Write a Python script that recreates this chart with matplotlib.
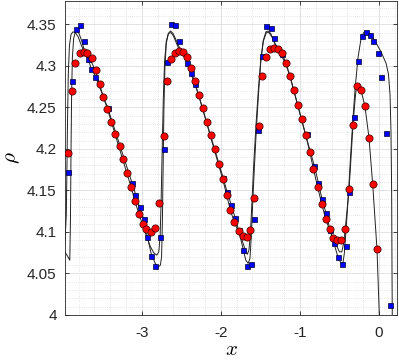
import matplotlib
matplotlib.use("Agg")
import matplotlib.pyplot as plt
from matplotlib.ticker import MultipleLocator, FuncFormatter

# marker data
red_x = [-3.933, -3.886, -3.839, -3.785, -3.734, -3.687, -3.633, -3.582, -3.535, -3.485,
         -3.434, -3.384, -3.335, -3.282, -3.237, -3.186, -3.139, -3.089, -3.038, -2.987,
         -2.941, -2.886, -2.832, -2.781, -2.725, -2.684, -2.633, -2.582, -2.532, -2.485,
         -2.434, -2.384, -2.333, -2.282, -2.232, -2.181, -2.130, -2.080, -2.029, -1.978,
         -1.928, -1.882, -1.832, -1.776, -1.725, -1.675, -1.629, -1.578, -1.523, -1.477,
         -1.427, -1.380, -1.329, -1.278, -1.228, -1.177, -1.127, -1.076, -1.025, -0.978,
         -0.928, -0.877, -0.832, -0.776, -0.725, -0.675, -0.624, -0.576, -0.528, -0.477,
         -0.427, -0.376, -0.329, -0.282, -0.228, -0.177, -0.127, -0.080, -0.025]
red_y = [4.1948, 4.2695, 4.3040, 4.3153, 4.3172, 4.3153, 4.3093, 4.2952, 4.2787, 4.2627,
         4.2482, 4.2329, 4.2181, 4.2036, 4.1876, 4.1714, 4.1546, 4.1377, 4.1217, 4.1096,
         4.1033, 4.1004, 4.1052, 4.1346, 4.2157, 4.2819, 4.3088, 4.3160, 4.3181, 4.3165,
         4.3105, 4.2980, 4.2823, 4.2651, 4.2490, 4.2325, 4.2165, 4.2004, 4.1823, 4.1635,
         4.1446, 4.1261, 4.1120, 4.1016, 4.0952, 4.0940, 4.1024, 4.1413, 4.2281, 4.2880,
         4.3112, 4.3205, 4.3220, 4.3208, 4.3160, 4.3040, 4.2876, 4.2707, 4.2527, 4.2358,
         4.2165, 4.1967, 4.1759, 4.1539, 4.1337, 4.1160, 4.1033, 4.0931, 4.0904, 4.0904,
         4.1033, 4.1518, 4.2293, 4.2759, 4.2714, 4.2514, 4.2136, 4.1582, 4.0792]

blue_x = [-3.933, -3.886, -3.835, -3.781, -3.730, -3.684, -3.642, -3.586, -3.427, -3.123,
          -3.080, -3.029, -2.975, -2.933, -2.882, -2.827, -2.776, -2.725, -2.687, -2.633,
          -2.578, -2.528, -2.434, -2.384, -2.333, -1.971, -1.920, -1.870, -1.819, -1.772,
          -1.725, -1.675, -1.620, -1.578, -1.528, -1.477, -1.434, -1.371, -1.325, -1.232,
          -0.915, -0.819, -0.768, -0.722, -0.671, -0.620, -0.570, -0.519, -0.468, -0.422,
          -0.376, -0.320, -0.270, -0.219, -0.168, -0.118, -0.072, -0.016, 0.029, 0.085,
          0.135]
blue_y = [4.1727, 4.2823, 4.3446, 4.3498, 4.3298, 4.3088, 4.2960, 4.2867, 4.2498, 4.1587,
          4.1446, 4.1305, 4.1157, 4.0943, 4.0714, 4.0594, 4.0943, 4.1996, 4.3052, 4.3506,
          4.3490, 4.3301, 4.3033, 4.2919, 4.2787, 4.1647, 4.1486, 4.1329, 4.1172, 4.1024,
          4.0783, 4.0594, 4.0611, 4.1153, 4.2229, 4.3124, 4.3478, 4.3458, 4.3334, 4.3141,
          4.2177, 4.1799, 4.1594, 4.1398, 4.1225, 4.1024, 4.0867, 4.0695, 4.0618, 4.0835,
          4.1478, 4.2389, 4.3064, 4.3365, 4.3413, 4.3373, 4.3298, 4.3153, 4.2867, 4.2193,
          4.0124]

# the two thin black curves, traced by eye
line1_x = [-3.975, -3.940, -3.911, -3.903, -3.896, -3.888, -3.878, -3.862, -3.840, -3.815,
           -3.790, -3.760, -3.730, -3.690, -3.642, -3.586, -3.520, -3.430, -3.120, -3.030,
           -2.975, -2.933, -2.882, -2.830, -2.790, -2.765, -2.750, -2.740, -2.730, -2.720,
           -2.707, -2.690, -2.665, -2.636, -2.605, -2.575, -2.540, -2.500, -2.434, -2.384,
           -2.333, -2.282, -1.971, -1.920, -1.870, -1.819, -1.772, -1.725, -1.685, -1.655,
           -1.632, -1.615, -1.595, -1.575, -1.550, -1.525, -1.495, -1.465, -1.430, -1.400,
           -1.370, -1.335, -1.290, -1.232, -1.180, -1.127, -0.928, -0.819, -0.768, -0.722,
           -0.671, -0.620, -0.570, -0.519, -0.480, -0.455, -0.437, -0.415, -0.390, -0.360,
           -0.330, -0.300, -0.265, -0.230, -0.195, -0.160, -0.110, -0.050, 0.030, 0.090,
           0.120, 0.140, 0.152, 0.160, 0.165, 0.168]
line1_y = [4.076, 4.071, 4.066, 4.110, 4.190, 4.265, 4.310, 4.333, 4.341, 4.342,
           4.338, 4.330, 4.320, 4.310, 4.298, 4.287, 4.271, 4.249, 4.158, 4.130,
           4.115, 4.096, 4.074, 4.062, 4.058, 4.060, 4.070, 4.110, 4.180, 4.250,
           4.300, 4.327, 4.339, 4.342, 4.339, 4.333, 4.325, 4.318, 4.304, 4.292,
           4.279, 4.265, 4.165, 4.148, 4.133, 4.117, 4.101, 4.082, 4.066, 4.062,
           4.068, 4.095, 4.140, 4.180, 4.225, 4.265, 4.305, 4.330, 4.341, 4.342,
           4.339, 4.331, 4.320, 4.312, 4.302, 4.288, 4.217, 4.180, 4.160, 4.140,
           4.123, 4.103, 4.086, 4.070, 4.062, 4.063, 4.075, 4.105, 4.140, 4.190,
           4.235, 4.275, 4.310, 4.331, 4.340, 4.342, 4.338, 4.330, 4.316, 4.303,
           4.290, 4.265, 4.220, 4.150, 4.050, 4.000]

line2_x = [-3.975, -3.955, -3.948, -3.940, -3.930, -3.915, -3.895, -3.870, -3.840, -3.805,
           -3.770, -3.735, -3.690, -3.633, -3.582, -3.535, -3.485, -3.434, -3.139, -3.089,
           -3.038, -2.987, -2.941, -2.895, -2.850, -2.810, -2.785, -2.768, -2.755, -2.742,
           -2.728, -2.712, -2.690, -2.662, -2.630, -2.600, -2.565, -2.530, -2.485, -2.434,
           -2.384, -2.333, -2.282, -1.978, -1.928, -1.882, -1.832, -1.776, -1.725, -1.690,
           -1.665, -1.645, -1.625, -1.605, -1.582, -1.555, -1.525, -1.495, -1.462, -1.425,
           -1.390, -1.355, -1.315, -1.270, -1.228, -1.177, -1.127, -0.928, -0.877, -0.832,
           -0.776, -0.725, -0.675, -0.624, -0.576, -0.535, -0.500, -0.470, -0.448, -0.425,
           -0.400, -0.376, -0.350, -0.329, -0.300, -0.282, -0.255, -0.228, -0.177, -0.127,
           -0.080, -0.025, 0.004]
line2_y = [4.083, 4.120, 4.170, 4.230, 4.290, 4.325, 4.338, 4.341, 4.340, 4.335,
           4.326, 4.318, 4.312, 4.304, 4.293, 4.278, 4.262, 4.248, 4.155, 4.138,
           4.122, 4.108, 4.095, 4.083, 4.075, 4.072, 4.076, 4.095, 4.140, 4.200,
           4.260, 4.305, 4.330, 4.339, 4.340, 4.336, 4.328, 4.320, 4.314, 4.308,
           4.296, 4.281, 4.265, 4.164, 4.145, 4.127, 4.112, 4.100, 4.088, 4.078,
           4.073, 4.078, 4.100, 4.140, 4.185, 4.230, 4.272, 4.307, 4.330, 4.340,
           4.340, 4.335, 4.327, 4.320, 4.314, 4.304, 4.288, 4.217, 4.197, 4.177,
           4.154, 4.134, 4.116, 4.102, 4.092, 4.083, 4.076, 4.076, 4.086, 4.105,
           4.130, 4.155, 4.195, 4.229, 4.262, 4.276, 4.278, 4.271, 4.251, 4.214,
           4.158, 4.079, 4.000]

plt.rcParams['font.family'] = ['Liberation Sans', 'DejaVu Sans']
plt.rcParams['mathtext.fontset'] = 'cm'

fig = plt.figure(figsize=(3.99, 3.62), dpi=100)
ax = fig.add_axes([0.163, 0.130, 0.832, 0.867])

ax.plot(line1_x, line1_y, color='#222222', lw=0.7, zorder=2)
ax.plot(line2_x, line2_y, color='#222222', lw=0.7, zorder=2)
ax.plot(blue_x, blue_y, ls='none', marker='s', ms=3.6, mfc='#0000ff', mec='#000033',
        mew=0.5, zorder=3)
ax.plot(red_x, red_y, ls='none', marker='o', ms=5.2, mfc='#ff0000', mec='#330000',
        mew=0.5, zorder=4)

ax.set_xlim(-3.971, 0.228)
ax.set_ylim(4.0, 4.378)
ax.xaxis.set_major_locator(MultipleLocator(1))
ax.xaxis.set_minor_locator(MultipleLocator(0.2))
ax.yaxis.set_major_locator(MultipleLocator(0.05))
ax.yaxis.set_minor_locator(MultipleLocator(0.01))
fmt = FuncFormatter(lambda v, p: '%g' % round(v, 4))
ax.xaxis.set_major_formatter(fmt)
ax.yaxis.set_major_formatter(fmt)

ax.grid(which='major', color='#dedede', lw=0.6, ls='-')
ax.grid(which='minor', color='#cfcfcf', lw=0.5, ls=(0, (1, 2)))
ax.set_axisbelow(True)

ax.tick_params(which='major', direction='in', top=True, right=True, length=3,
               width=0.6, color='#262626', labelcolor='#262626', labelsize=11)
ax.tick_params(axis='y', which='major', pad=6)
ax.tick_params(axis='x', which='major', pad=8)
ax.tick_params(which='minor', length=0, top=True, right=True)
for s in ax.spines.values():
    s.set_color('#262626')
    s.set_linewidth(0.6)

ax.set_xlabel('$x$', fontsize=15, labelpad=0)
ax.set_ylabel(r'$\rho$', fontsize=15, labelpad=4)

fig.savefig('out.png', dpi=100)
